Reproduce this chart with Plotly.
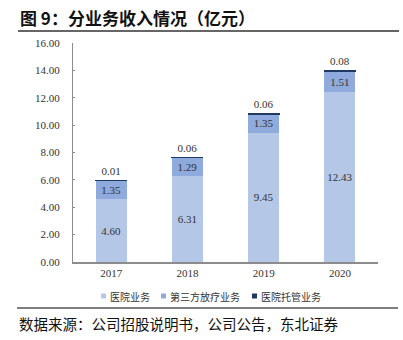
import plotly.graph_objects as go

years = ["2017", "2018", "2019", "2020"]
hospital = [4.60, 6.31, 9.45, 12.43]
radiotherapy = [1.35, 1.29, 1.35, 1.51]
hosting = [0.01, 0.06, 0.06, 0.08]
series_names = ["医院业务", "第三方放疗业务", "医院托管业务"]
colors = ["#B4C7E7", "#8FAADC", "#1F3864"]
y_ticks = [0, 2, 4, 6, 8, 10, 12, 14, 16]

W, H = 403, 340
L, R, T, B = 73, 25, 43, 78
PW, PH = W - L - R, H - T - B

def px(x):
    return (x - L) / PW

def py(y):
    return (H - B - y) / PH

num_font = dict(family="Liberation Serif, DejaVu Serif, serif", size=11, color="#333333")
cjk = "Noto Sans CJK SC, sans-serif"

fig = go.Figure()
for vals, name, col in zip([hospital, radiotherapy], series_names[:2], colors[:2]):
    fig.add_trace(go.Bar(
        x=years, y=vals, name=name, marker=dict(color=col, line=dict(width=0)),
        texttemplate="%{y:.2f}", textposition="inside", insidetextanchor="middle",
        textangle=0, textfont=num_font, showlegend=False, constraintext="none",
    ))
fig.add_trace(go.Bar(
    x=years, y=hosting, name=series_names[2],
    marker=dict(color=colors[2], line=dict(width=1, color=colors[2])),
    texttemplate="%{y:.2f}", textposition="outside", textangle=0, textfont=num_font,
    showlegend=False, cliponaxis=False, constraintext="none",
))

fig.update_layout(
    width=W, height=H, barmode="stack", bargap=0.594,
    margin=dict(l=L, r=R, t=T, b=B),
    paper_bgcolor="white", plot_bgcolor="white",
    font=dict(family=cjk, color="#333333"),
    xaxis=dict(showline=True, linecolor="#8C8C8C", linewidth=2, ticks="",
               tickfont=num_font, showgrid=False),
    yaxis=dict(range=[0, 16], tickvals=y_ticks, tickformat=".2f",
               showline=True, linecolor="#8C8C8C", linewidth=1,
               ticks="inside", ticklen=2, tickcolor="#8C8C8C",
               tickfont=num_font, showgrid=False, zeroline=False, ticklabelstandoff=10),
)

# title, rules, source
fig.add_annotation(text="<b>图 9：分业务收入情况（亿元）</b>", xref="paper", yref="paper",
                   x=px(18), y=py(17.5), xanchor="left", yanchor="middle", showarrow=False,
                   font=dict(family=cjk, size=17, color="#111111"))
fig.add_shape(type="line", xref="paper", yref="paper", x0=px(18), x1=px(399), y0=py(31), y1=py(31),
              line=dict(color="#333333", width=1.5))
fig.add_shape(type="line", xref="paper", yref="paper", x0=px(17), x1=px(398), y0=py(308), y1=py(308),
              line=dict(color="#7F7F7F", width=2))
fig.add_annotation(text="数据来源：公司招股说明书，公司公告，东北证券", xref="paper", yref="paper",
                   x=px(17), y=py(323), xanchor="left", yanchor="middle", showarrow=False,
                   font=dict(family=cjk, size=14.5, color="#111111"))

# legend
sq_x = [101, 161, 252]
for name, col, sx in zip(series_names, colors, sq_x):
    fig.add_shape(type="rect", xref="paper", yref="paper", x0=px(sx), x1=px(sx + 5),
                  y0=py(298.5), y1=py(293.5), fillcolor=col, line=dict(width=0))
    fig.add_annotation(text=name, xref="paper", yref="paper", x=px(sx + 6.5), y=py(296),
                       xanchor="left", yanchor="middle", showarrow=False,
                       font=dict(family=cjk, size=10, color="#333333"))

fig.write_html("out.html")
